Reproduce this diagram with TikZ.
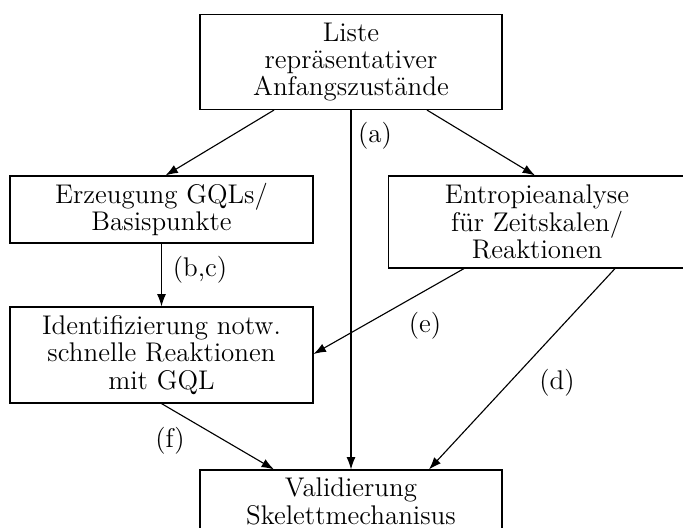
\documentclass[tikz,border=0pt]{standalone}
\usetikzlibrary{arrows.meta}
\begin{document}
\begin{tikzpicture}[x=0.4445pt,y=-0.4445pt,
  box/.style={draw,line width=0.5pt,align=center,inner sep=0pt,font=\fontsize{12}{12.1}\selectfont},
  arr/.style={line width=0.5pt,-{Latex[length=5.5pt,width=4pt]}},
  lbl/.style={inner sep=0pt,font=\fontsize{12}{12.1}\selectfont}]
\useasboundingbox (0,0) rectangle (683,527);
\clip (0,0) rectangle (683,527);
\node[box,minimum width=302*0.4445pt,minimum height=95*0.4445pt] (top) at (351,62) {Liste\\repräsentativer\\Anfangszustände};
\node[box,minimum width=303*0.4445pt,minimum height=67*0.4445pt] (left) at (161.5,209.5) {Erzeugung GQLs/\\Basispunkte};
\node[box,minimum width=297*0.4445pt,minimum height=92*0.4445pt] (right) at (537,222) {Entropieanalyse\\für Zeitskalen/\\Reaktionen};
\node[box,minimum width=303*0.4445pt,minimum height=96*0.4445pt] (ident) at (161.5,355) {Identifizierung notw.\\schnelle Reaktionen\\mit GQL};
\node[box,minimum width=302*0.4445pt,minimum height=63*0.4445pt] (valid) at (351,501.5) {Validierung\\Skelettmechanisus};
\draw[arr] ([shift={(-77,0)}]top.south) -- ([shift={(4,0)}]left.north);
\draw[arr] ([shift={(76,0)}]top.south) -- ([shift={(-2,0)}]right.north);
\draw[arr] (top.south) -- (valid.north);
\draw[arr] (left.south) -- (ident.north);
\draw[arr] ([shift={(-73,0)}]right.south) -- ([shift={(0,-1)}]ident.east);
\draw[arr] ([shift={(78,0)}]right.south) -- ([shift={(78,0)}]valid.north);
\draw[arr] (ident.south) -- ([shift={(-77,0)}]valid.north);
\node[lbl] (la) at (375,136) {(a)};
\node[lbl] (lbc) at (200,270) {(b,c)};
\node[lbl] (le) at (425,326) {(e)};
\node[lbl] (ld) at (557,383) {(d)};
\node[lbl] (lf) at (170,441) {(f)};
\end{tikzpicture}
\end{document}
